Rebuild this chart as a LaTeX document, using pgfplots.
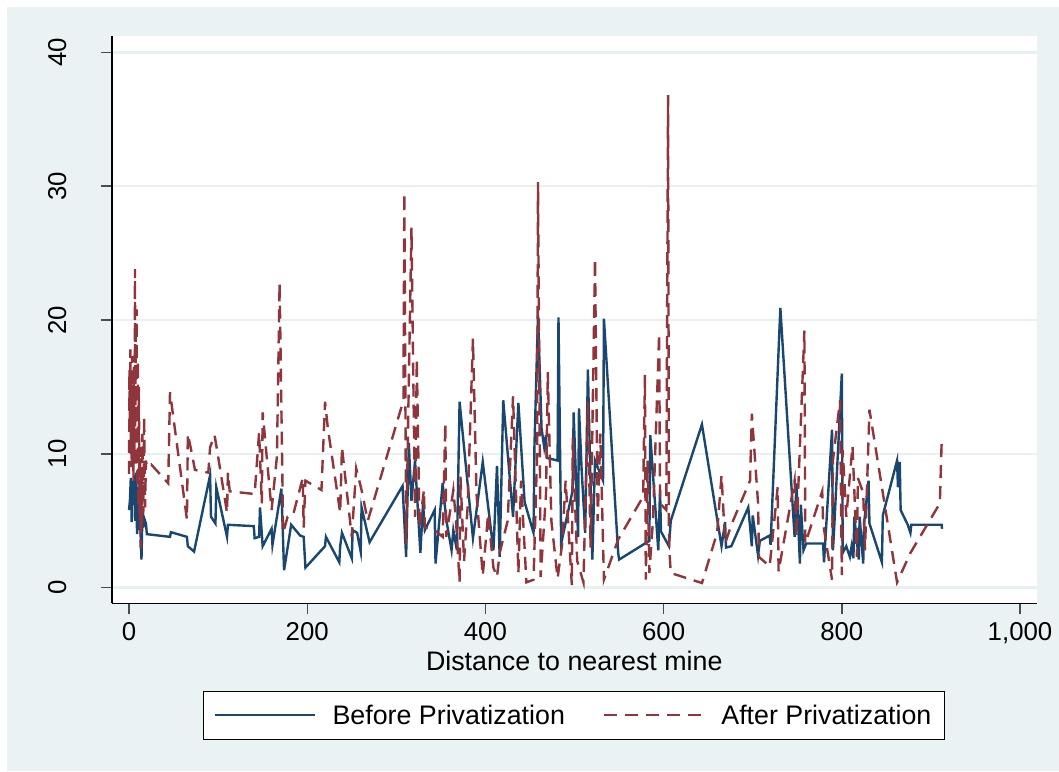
\documentclass[border=0pt]{standalone}
\usepackage{fontspec}
\setmainfont{Liberation Sans}
\usepackage{pgfplots}
\pgfplotsset{compat=1.18}
\definecolor{navy}{RGB}{26,71,111}
\definecolor{maroon}{RGB}{144,53,59}
\definecolor{bgc}{RGB}{234,242,243}
\definecolor{gridc}{RGB}{232,240,242}
\begin{document}
\begin{tikzpicture}[x=1pt,y=1pt]
\fill[white] (0,0) rectangle (1059,771);
\fill[bgc] (7,0) rectangle (1059,764);
\begin{axis}[
  at={(112pt,167.7pt)}, anchor=south west,
  scale only axis, width=924.5pt, height=567.6pt,
  xmin=-19.1, xmax=1018.5, ymin=-1.165, ymax=41.24,
  axis background/.style={fill=white},
  axis lines*=left,
  axis line style={-, black, line width=1.1pt},
  tick align=outside, major tick length=11pt,
  tick style={color=black!70, line width=1.4pt},
  xtick={0,200,400,600,800,1000},
  xticklabels={0,200,400,600,800,{1,000}},
  ytick={0,10,20,30,40},
  yticklabels={0,10,20,30,40},
  ymajorgrids, grid style={color=gridc, line width=2.5pt},
  ticklabel style={font=\fontsize{25.8}{30}\selectfont},
  yticklabel style={xshift=-31pt, rotate=90, anchor=south},
  xticklabel style={anchor=north, yshift=-7pt, inner ysep=1pt},
  xlabel={Distance to nearest mine},
  every axis x label/.style={at={(axis description cs:0.5,0)}, anchor=base, yshift=-67pt, inner ysep=1pt, font=\fontsize{26.8}{30}\selectfont},
  legend columns=2,
  legend cell align=left,
  legend image code/.code={\draw[#1] (0pt,0pt) -- (100pt,0pt);},
  legend style={at={(axis description cs:0.0981,-0.154)}, anchor=north west,
    draw=black, line width=1pt, fill=white,
    font=\fontsize{26.8}{30}\selectfont,
    inner xsep=11pt, inner ysep=11.5pt,
    /tikz/every odd column/.append style={column sep=14pt},
    /tikz/every even column/.append style={column sep=36pt}},
  clip=true,
]
\addplot[navy, line width=2.4pt] coordinates {
(0,5.8)(1,6.5)(2,8.2)(3,4.9)(4,8.0)(5,6.3)(6,8.4)(7,5.0)(8,8.6)(9,4.0)
(10,7.5)(11,4.3)(12,8.0)(13,4.0)(14,2.1)(15,5.5)(16,4.5)(17,5.2)(19,4.8)(20,4.0)
(46,3.8)(47,4.15)(65,3.8)(66,3.1)(73,2.7)(91,8.4)(92,5.3)(97,4.8)(98,7.5)(110,3.8)
(111,4.7)(140,4.6)(141,3.7)(146,3.8)(147,6.0)(150,3.1)(160,4.4)(161,3.2)(171,7.4)(174,1.3)
(182,4.7)(192,3.9)(196,3.8)(198,1.5)(220,3.1)(221,3.8)(236,1.9)(237,3.1)(239,4.1)(250,2.2)
(251,4.3)(256,4.1)(260,2.7)(261,6.0)(270,3.4)(307,7.6)(311,2.3)(314,10.8)(317,6.5)(321,9.5)
(327,2.6)(330,6.3)(332,4.3)(343,5.8)(344,1.8)(352,7.8)(356,5.1)(362,2.8)(364,4.3)(368,2.8)
(371,13.9)(386,3.7)(397,9.4)(409,2.8)(413,9.1)(416,2.3)(420,14.0)(431,5.3)(437,13.8)(444,6.4)
(454,4.1)(455,10.5)(459,20.4)(463,11.9)(466,10.5)(468,11.4)(469,9.7)(481,9.5)(482,20.2)(485,3.3)
(498,7.3)(499,13.1)(504,3.8)(505,13.4)(508,8.8)(512,4.1)(515,16.3)(520,2.1)(523,9.5)(532,8.0)
(533,20.1)(549,2.6)(550,2.1)(579,3.3)(584,3.5)(585,11.4)(594,2.8)(596,7.3)(597,4.2)(606,3.1)
(608,5.0)(643,12.2)(665,3.1)(669,4.9)(670,3.0)(676,3.1)(695,6.0)(699,3.1)(700,5.4)(706,2.4)
(708,3.5)(719,3.9)(720,3.2)(731,20.9)(747,3.8)(749,7.8)(753,1.8)(754,6.2)(757,2.8)(760,3.3)
(779,3.3)(780,1.9)(789,11.8)(790,2.8)(791,3.9)(800,16.0)(801,2.6)(805,3.1)(809,2.3)(811,3.1)
(813,2.2)(814,5.3)(819,2.1)(820,5.3)(824,1.8)(825,4.8)(830,8.0)(831,4.8)(845,1.9)(846,5.4)
(862,9.5)(863,7.5)(865,9.4)(866,5.8)(874,4.7)(877,4.1)(878,4.7)(912,4.7)(912.5,4.4)
};
\addlegendentry{Before Privatization}
\addplot[maroon, line width=2.4pt, dash pattern=on 13pt off 8pt] coordinates {
(0,8.5)(0.5,16.3)(1,12)(1.5,17.8)(2,10)(2.5,15.5)(3,9)(3.5,17.3)(4,11)(4.5,14)
(5,8)(5.5,16.5)(6,10)(6.7,23.8)(7,12)(7.5,19)(8,9)(8.5,20.8)(9,13)(9.5,7.5)
(10,17)(10.5,6)(11,15)(12,5)(12.5,10.5)(13,3)(14,9)(14.5,4.5)(15,11.5)(16,5.5)
(17,12.8)(18,6)(19,9.5)(20,9.0)(25,9.2)(44,7.8)(46,14.6)(65,5.1)(66,11.5)(70,10.2)
(74,8.8)(89,8.6)(91,10.5)(96,11.4)(100,9.8)(110,5.6)(111,8.6)(113,7.2)(141,7.0)(146,11.6)
(149,6.3)(150,13.1)(160,5.8)(166,9.8)(169,22.8)(173,4.1)(178,5.3)(184,5.4)(195,8.2)(196,4.5)
(198,8.0)(216,7.3)(220,13.9)(223,12.0)(237,5.6)(239,10.5)(250,3.8)(255,8.9)(261,7.3)(268,5.0)
(308,14.0)(309,29.5)(311,3.3)(314,15.3)(317,26.9)(321,5.3)(323,17.1)(326,4.5)(331,7.3)(332,4.5)
(343,4.3)(352,3.8)(355,12.3)(356,3.8)(364,7.3)(367,5.0)(371,0.4)(372,8.3)(376,2.0)(380,6.0)
(386,18.6)(390,7.0)(397,0.9)(403,5.5)(409,1.5)(413,0.8)(416,2.6)(425,5.0)(431,14.3)(437,1.1)
(440,8.0)(446,0.4)(454,0.6)(458,10.0)(459,30.3)(462,0.8)(468,7.0)(470,16.1)(474,5.0)(481,0.7)
(486,3.2)(490,8.0)(497,0.2)(498,11.2)(503,2.0)(510,0.4)(515,13.9)(518,3.0)(523,24.6)(526,5.0)
(529,11.5)(533,0.6)(549,3.6)(577,6.8)(579,15.9)(580,0.6)(582,9.5)(584,1.1)(588,5.0)(595,19.0)
(596,6.3)(603,5.8)(605,36.8)(606,3.3)(608,1.1)(643,0.35)(660,4.1)(665,8.4)(669,3.3)(676,4.7)
(697,8.0)(699,13.0)(706,6.3)(707,2.3)(719,1.6)(728,7.5)(729,1.2)(747,8.0)(749,3.8)(758,19.2)
(759,3.3)(778,7.2)(779,4.8)(789,0.6)(790,9.5)(798,14.0)(800,0.95)(801,10.3)(805,5.3)(812,10.6)
(817,2.3)(818,8.2)(824,7.1)(826,2.8)(831,13.3)(845,7.5)(862,0.4)(877,2.6)(910,6.3)(912,10.8)
};
\addlegendentry{After Privatization}
\end{axis}
\pgfresetboundingbox
\path[use as bounding box] (0,0) rectangle (1059,771);
\end{tikzpicture}
\end{document}
